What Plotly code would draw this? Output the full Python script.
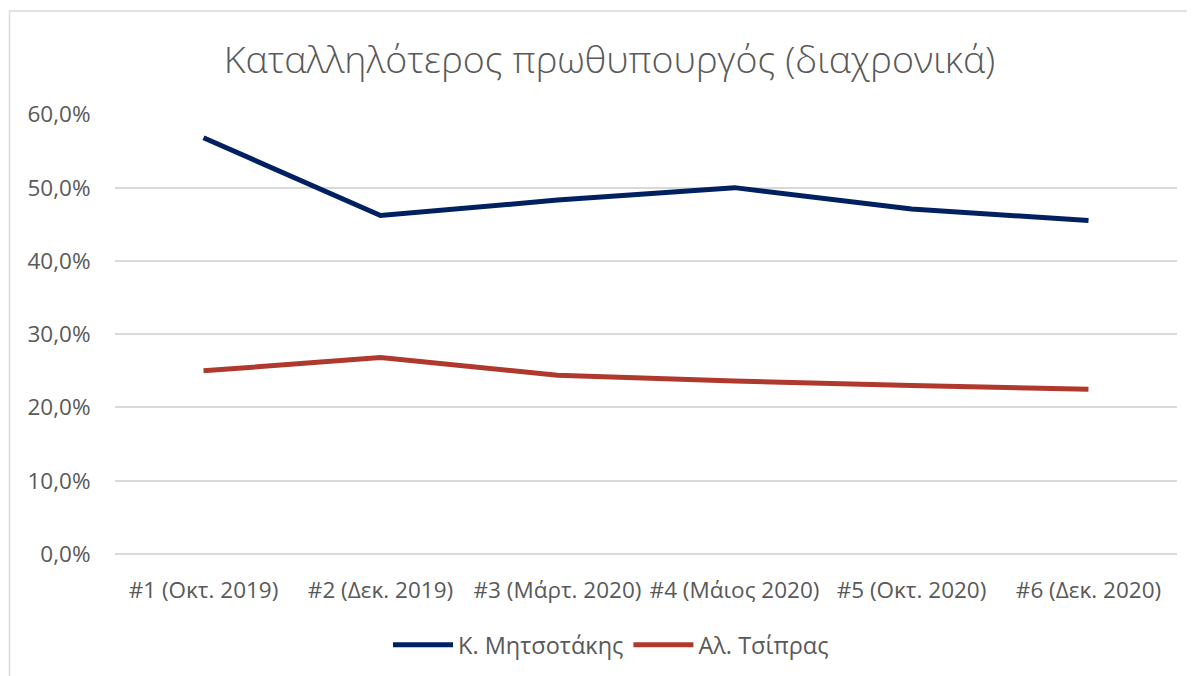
import plotly.graph_objects as go

categories = ["#1 (Οκτ. 2019)", "#2 (Δεκ. 2019)", "#3 (Μάρτ. 2020)",
              "#4 (Μάιος 2020)", "#5 (Οκτ. 2020)", "#6 (Δεκ. 2020)"]
mitsotakis = [56.8, 46.2, 48.3, 50.0, 47.1, 45.5]
tsipras = [25.0, 26.8, 24.4, 23.6, 23.0, 22.5]
y_ticks = [0, 10, 20, 30, 40, 50, 60]
y_tick_labels = ["0,0%", "10,0%", "20,0%", "30,0%", "40,0%", "50,0%", "60,0%"]

W, H = 1195, 676
OFF = 8  # page body margin
# target plot area in page pixels
PL, PR, PT, PB = 115, 1177, 114, 554
L, T = PL - OFF, PT - OFF
PW, PH = PR - PL, PB - PT
R = W - L - PW
B = H - T - PH

def px_x(p):
    return (p - PL) / PW

def px_y(p):
    return (PB - p) / PH

FONT = "Open Sans"
TXT = "#595959"
FS = 22.5

fig = go.Figure()
fig.add_trace(go.Scatter(x=categories, y=mitsotakis, mode="lines", name="Κ. Μητσοτάκης",
                         line=dict(color="#002060", width=5)))
fig.add_trace(go.Scatter(x=categories, y=tsipras, mode="lines", name="Αλ. Τσίπρας",
                         line=dict(color="#b0392e", width=5)))

fig.update_layout(
    width=W, height=H,
    margin=dict(l=L, r=R, t=T, b=B, autoexpand=False),
    paper_bgcolor="white", plot_bgcolor="white",
    font=dict(family=FONT, color=TXT, size=FS),
    title=dict(text="Καταλληλότερος πρωθυπουργός (διαχρονικά)",
               x=px_x(609.5), xref="paper", xanchor="center",
               y=1 - (60 - OFF) / H, yref="container", yanchor="middle",
               font=dict(family=FONT, size=37.5, color=TXT, weight=300)),
    showlegend=True,
    legend=dict(orientation="h", x=px_x(611), xanchor="center", y=px_y(645), yanchor="middle",
                font=dict(size=23.5, color=TXT), itemwidth=60, bgcolor="rgba(0,0,0,0)"),
    xaxis=dict(type="category", range=[-0.5, 5.5], showgrid=False, showline=False,
               ticks="outside", ticklen=16, tickcolor="rgba(0,0,0,0)", tickangle=0,
               automargin=False, tickfont=dict(size=FS, color=TXT), zeroline=False),
    yaxis=dict(range=[0, 60.05], tickvals=y_ticks, ticktext=y_tick_labels,
               showgrid=True, gridcolor="#d9d9d9", gridwidth=1.5,
               zeroline=True, zerolinecolor="#d9d9d9", zerolinewidth=1.5, automargin=False,
               showline=False, ticks="outside", ticklen=19, tickcolor="rgba(0,0,0,0)",
               tickfont=dict(size=FS, color=TXT)),
    shapes=[dict(type="rect", xref="paper", yref="paper",
                 x0=px_x(9.5), x1=px_x(1230), y0=px_y(700), y1=px_y(11),
                 line=dict(color="#d9d9d9", width=1.5), fillcolor="rgba(0,0,0,0)", layer="below")],
)

fig.write_html("out.html")
